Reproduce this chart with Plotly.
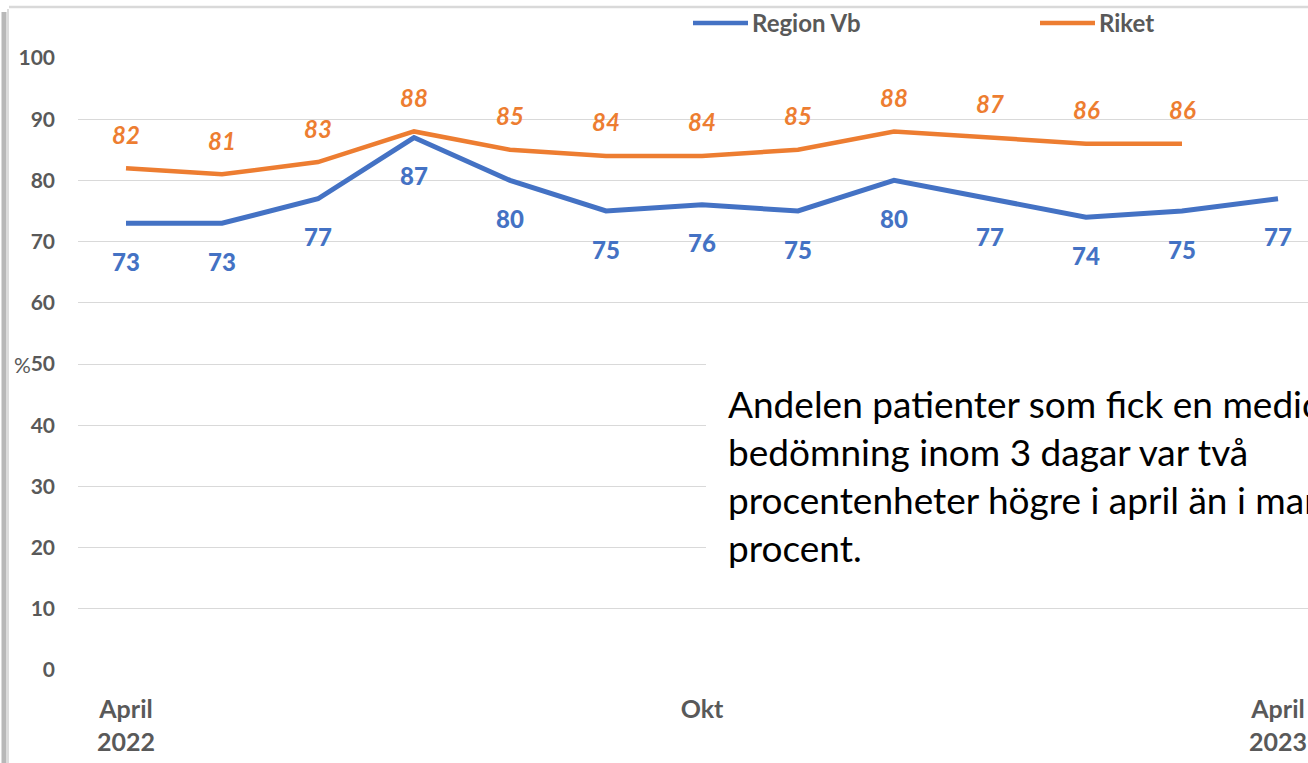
import plotly.graph_objects as go

months = ["Apr 2022", "Maj 2022", "Jun 2022", "Jul 2022", "Aug 2022", "Sep 2022",
          "Okt 2022", "Nov 2022", "Dec 2022", "Jan 2023", "Feb 2023", "Mar 2023", "Apr 2023"]
region_vb = [73, 73, 77, 87, 80, 75, 76, 75, 80, 77, 74, 75, 77]
riket = [82, 81, 83, 88, 85, 84, 84, 85, 88, 87, 86, 86]
series_names = ["Region Vb", "Riket"]
tick_months = [months[0], months[6], months[12]]
tick_labels = ["April<br>2022", "Okt", "April<br>2023"]
y_ticks = list(range(0, 101, 10))
note_text = ("Andelen patienter som fick en medicinsk<br>bedömning inom 3 dagar var två<br>"
             "procentenheter högre i april än i mars, 77<br>procent.")

BLUE = "#4472C4"
ORANGE = "#ED7D31"
GRAY = "#595959"
GRID = "#D9D9D9"
FONT = "Lato"

fig = go.Figure()
fig.add_trace(go.Scatter(x=months, y=region_vb, mode="lines", name=series_names[0],
                         line=dict(color=BLUE, width=5), showlegend=False))
fig.add_trace(go.Scatter(x=months[:len(riket)], y=riket, mode="lines", name=series_names[1],
                         line=dict(color=ORANGE, width=4.5), showlegend=False))

annotations = []
for m, v in zip(months, region_vb):
    annotations.append(dict(x=m, y=v, xref="x", yref="y", text=str(v), showarrow=False,
                            yshift=-38, font=dict(family=FONT, size=24, color=BLUE, weight=900)))
for m, v in zip(months, riket):
    annotations.append(dict(x=m, y=v, xref="x", yref="y", text=f"<i>{v}</i>", showarrow=False,
                            yshift=34, font=dict(family=FONT, size=24, color=ORANGE, weight="bold")))

# "%" axis label
annotations.append(dict(x=-0.045, y=50, xref="paper", yref="y", text="%", showarrow=False,
                        xanchor="center", yanchor="middle",
                        font=dict(family=FONT, size=21, color=GRAY)))

# note text box
annotations.append(dict(x=0.5268, y=0.476, xref="paper", yref="paper", text=note_text,
                        showarrow=False, xanchor="left", yanchor="top", align="left",
                        font=dict(family=FONT, size=37, color="#000000")))

# legend drawn manually
W, H, L, T = 1308, 763, 78, 58
PW, PH = W - L, 670 - T
def px(x):
    return (x - L) / PW
def py(y):
    return (670 - y) / PH

shapes = []
legend_pos = [(693, 748), (1040, 1095)]
for (x0, x1), name, col in zip(legend_pos, series_names, [BLUE, ORANGE]):
    shapes.append(dict(type="line", xref="paper", yref="paper", x0=px(x0), x1=px(x1),
                       y0=py(23), y1=py(23), line=dict(color=col, width=4.5)))
    annotations.append(dict(x=px(x1 + 2), y=py(23), xref="paper", yref="paper", text=name,
                            showarrow=False, xanchor="left", yanchor="middle",
                            font=dict(family=FONT, size=24, color=GRAY, weight="bold")))

# white box behind note
shapes.append(dict(type="rect", xref="paper", yref="paper", x0=px(706), x1=1.01,
                   y0=py(600), y1=py(359), fillcolor="white", line=dict(width=0), layer="above"))
# slide borders
shapes.append(dict(type="line", xref="paper", yref="paper", x0=px(9), x1=1.01,
                   y0=py(7), y1=py(7), line=dict(color=GRID, width=2.5)))
shapes.append(dict(type="line", xref="paper", yref="paper", x0=px(4), x1=px(4),
                   y0=py(12), y1=py(770), line=dict(color="#B8B8B8", width=5)))
shapes.append(dict(type="line", xref="paper", yref="paper", x0=px(8), x1=px(8),
                   y0=py(9), y1=py(770), line=dict(color="#D0D0D0", width=1.5)))

fig.update_layout(
    width=W, height=H,
    margin=dict(l=L, r=0, t=T, b=H - 670, autoexpand=False),
    paper_bgcolor="white", plot_bgcolor="white",
    showlegend=False,
    annotations=annotations,
    shapes=shapes,
    font=dict(family=FONT, color=GRAY),
)
fig.update_xaxes(type="category", categoryorder="array", categoryarray=months,
                 range=[-0.5, 12.3125], tickmode="array", tickvals=tick_months, ticktext=tick_labels,
                 showgrid=False, zeroline=False, showline=False, ticks="",
                 ticklabelstandoff=22,
                 tickfont=dict(family=FONT, size=25, color=GRAY, weight="bold"))
fig.update_yaxes(range=[0, 100], tickvals=y_ticks, showgrid=True, gridcolor=GRID, gridwidth=1.3,
                 zeroline=False, showline=False, ticks="", ticklabelstandoff=22,
                 tickfont=dict(family=FONT, size=21, color=GRAY, weight="bold"))

fig.write_html("out.html", config={"displayModeBar": False},
               post_script="document.body.style.margin='0';")
